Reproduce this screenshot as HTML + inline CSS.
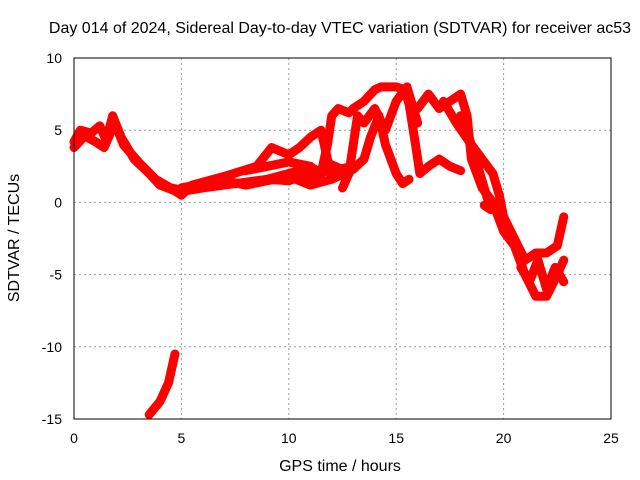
<!DOCTYPE html>
<html><head><meta charset="utf-8"><style>
body{margin:0;background:#fff}
svg{display:block;font-family:"Liberation Sans",sans-serif}
</style></head><body>
<svg id="c" width="640" height="480">
<rect width="640" height="480" fill="#fff"/>
<text x="340" y="33" font-size="16" text-anchor="middle">Day 014 of 2024, Sidereal Day-to-day VTEC variation (SDTVAR) for receiver ac53</text>
<text x="340" y="471" font-size="16" text-anchor="middle">GPS time / hours</text>
<text transform="translate(19,238) rotate(-90)" font-size="16" text-anchor="middle">SDTVAR / TECUs</text>
<g id="grid"></g><g id="marks"></g>
<rect x="74" y="58" width="537" height="361" fill="none" stroke="#000"/>
</svg>
<script>
const xTicks=[0,5,10,15,20,25];
const yTicks=[-15,-10,-5,0,5,10];
const track1H=[0,0.3,0.8,1.2,1.5,1.8,2.2,2.8,3.5,4,4.7,5,5.5,7,8.5,9.2,10,10.5,11,11.5,11.8,12];
const track1V=[4.2,5,4.8,5.3,4.3,6,4.5,3,2,1.2,0.8,0.5,1.2,1.8,2.5,3.8,3.3,3.8,4.5,5,3,1.8];
const track2H=[5,6,7,8,9,10,11,12,13,13.5,13.8,14.2,14.5,15,15.3,15.6];
const track2V=[1,1.3,1.5,1.2,1.5,1.8,1.2,1.6,2.3,3,4.5,6,4,2,1.3,1.6];
const track3H=[8,9,10,11,11.5,11.8,12,12.3,12.8,13,13.5,14,14.3,15,15.4,15.6,15.9,16.1,16.5,17,17.5,18];
const track3V=[2.2,2.5,2.8,2.5,2,4,6,6.5,6.2,6.5,7,7.8,8,8,7.8,6.8,4,2,2.5,3,2.5,2.2];
const track4H=[12.5,12.8,13.2,13.5,14,14.5,15,15.5,16];
const track4V=[1,2,6,5.5,6.5,5,7,8,5.5];
const track5H=[16,16.5,17,17.5,18,18.3,18.5,19,19.5,20,20.5,21,21.5,22,22.5,22.8];
const track5V=[6.5,7.5,6.5,7,7.5,6,3,1,0,-2,-3,-5,-6.5,-6.5,-5,-4];
const track6H=[17.2,17.8,18.5,19,19.5,19.8,20,20.5,21,21.5,22,22.5,22.8];
const track6V=[7,5.5,4,3,2,0.5,-1,-2.5,-4,-3.5,-3.5,-3,-1];
const track7H=[18,18.5,19,19.4,19.1];
const track7V=[6,4,1.5,-0.5,-0.2];
const track8H=[3.5,4,4.4,4.7];
const track8V=[-14.7,-13.8,-12.5,-10.5];
const track9H=[0,0.5,1,1.4,1.9,2.3,3,3.8,4.5,5.2,6,7,8,9,10,11,12,13];
const track9V=[3.8,4.6,4.2,3.8,5.5,4,2.8,1.6,1,0.8,1,1.2,1.4,1.6,1.5,2,2.2,2.5];
const track10H=[7.5,8.5,9.5,10.5,11.2,12,12.6];
const track10V=[1.3,1.4,1.8,2.2,1.6,2.6,2.2];
const track11H=[20.8,21.2,21.6,22,22.4,22.8];
const track11V=[-4.5,-5.5,-4,-6,-4.5,-5.5];
const tracks=[[track1H,track1V],[track2H,track2V],[track3H,track3V],[track4H,track4V],[track5H,track5V],[track6H,track6V],[track7H,track7V],[track8H,track8V],[track9H,track9V],[track10H,track10V],[track11H,track11V]];
const X=h=>74+h*537/25, Y=v=>58+(10-v)*361/25;
const NS="http://www.w3.org/2000/svg";
const g=document.getElementById('grid'), m=document.getElementById('marks');
function mk(tag,at,p){const e=document.createElementNS(NS,tag);for(const k in at)e.setAttribute(k,at[k]);p.appendChild(e);return e;}
xTicks.forEach(t=>{
  const x=X(t);
  if(t>0&&t<25){const l=mk('line',{x1:x,x2:x,y1:58,y2:419,stroke:'#999','stroke-dasharray':'2,3'},g);
  
  }
  const tx=mk('text',{x:x,y:443,'font-size':14,'text-anchor':'middle'},g);tx.textContent=t;
  
  
});
yTicks.forEach(t=>{
  const y=Y(t);
  if(t>-15&&t<10){const l=mk('line',{x1:74,x2:611,y1:y,y2:y,stroke:'#999','stroke-dasharray':'2,3'},g);
  
  }
  const tx=mk('text',{x:62,y:y+5,'font-size':14,'text-anchor':'end'},g);tx.textContent=t;
  
  
});
tracks.forEach(([H,V],i)=>{
  const pts=H.map((h,j)=>X(h)+','+Y(V[j])).join(' ');
  const p=mk('polyline',{points:pts,fill:'none',stroke:'#f00','stroke-width':9,'stroke-linejoin':'round','stroke-linecap':'round'},m);
  
  
});
</script>
</body></html>
